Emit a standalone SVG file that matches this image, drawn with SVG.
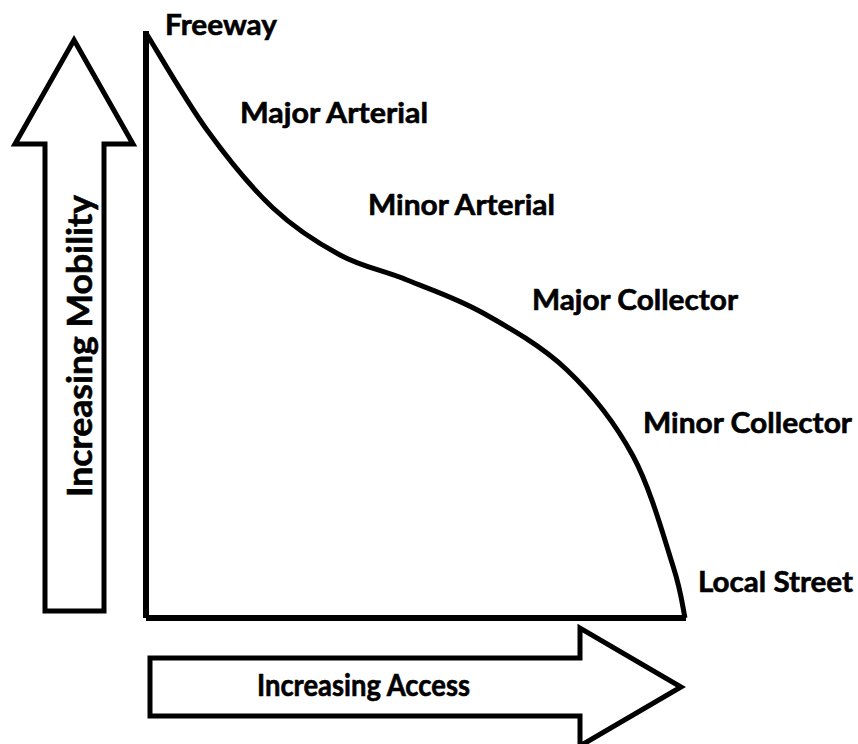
<svg xmlns="http://www.w3.org/2000/svg" width="858" height="744" viewBox="0 0 858 744">
<style>
.lbl{font-family:Lato,"Liberation Sans",sans-serif;font-weight:bold;font-size:29px;fill:#000;stroke:#000;stroke-width:0.6}
.arrow{fill:#fff;stroke:#000;stroke-width:5;stroke-linejoin:miter}
.plot{fill:none;stroke:#000;stroke-linejoin:miter}
</style>
<rect width="858" height="744" fill="#fff"/>
<g id="mobility-arrow">
<polygon class="arrow" points="74,40 133,144 104,144 104,611 45,611 45,144 15,144"/>
<text class="lbl" style="font-size:35px" transform="translate(92,497) rotate(-90)" textLength="302" lengthAdjust="spacingAndGlyphs">Increasing Mobility</text>
</g>
<g id="access-arrow">
<polygon class="arrow" points="150,658 580,658 580,628 681,687 580,746 580,716 150,716"/>
<text class="lbl" style="font-size:30px" x="257" y="696" textLength="213" lengthAdjust="spacingAndGlyphs">Increasing Access</text>
</g>
<g id="connectors">
<path class="plot" stroke-width="6" d="M146,618 L146,31"/>
<path class="plot" stroke-width="6" d="M146,618 L686,618"/>
<path class="plot" stroke-width="5" d="M146,33 C156.2,49.2 185.8,100.8 207,130 C228.2,159.2 250.8,187.2 273,208 C295.2,228.8 317.7,243 340,255 C362.3,267 383.2,270.3 407,280 C430.8,289.7 456.3,298 483,313 C509.7,328 542,346.2 567,370 C592,393.8 615.3,423.3 633,456 C650.7,488.7 664.3,539 673,566 C681.7,593 683,609.3 685,618"/>
</g>
<g id="freeway"><text class="lbl" x="165" y="35" textLength="112" lengthAdjust="spacingAndGlyphs">Freeway</text></g>
<g id="major-arterial"><text class="lbl" x="240" y="123" textLength="188" lengthAdjust="spacingAndGlyphs">Major Arterial</text></g>
<g id="minor-arterial"><text class="lbl" x="368" y="215" textLength="187" lengthAdjust="spacingAndGlyphs">Minor Arterial</text></g>
<g id="major-collector"><text class="lbl" x="532" y="310" textLength="206" lengthAdjust="spacingAndGlyphs">Major Collector</text></g>
<g id="minor-collector"><text class="lbl" x="643" y="433" textLength="209" lengthAdjust="spacingAndGlyphs">Minor Collector</text></g>
<g id="local-street"><text class="lbl" x="698" y="592" textLength="155" lengthAdjust="spacingAndGlyphs">Local Street</text></g>
</svg>
